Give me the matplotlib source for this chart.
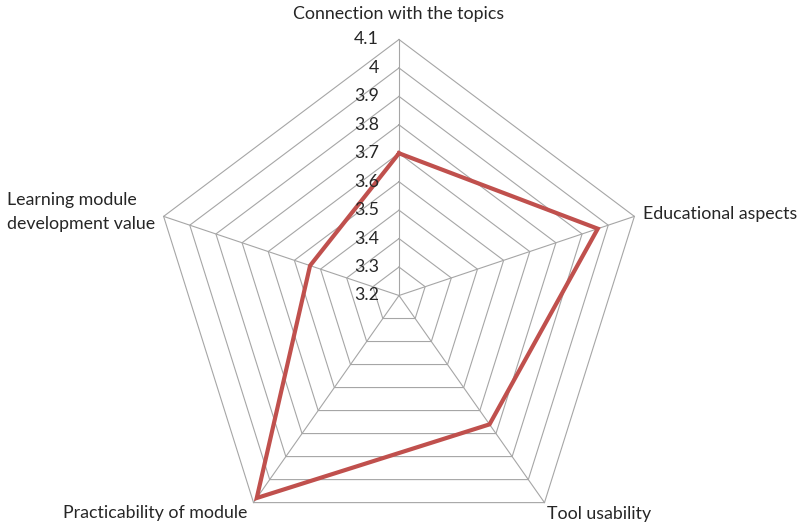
import numpy as np
import matplotlib
matplotlib.use("Agg")
import matplotlib.pyplot as plt

plt.rcParams['font.family'] = ['Lato', 'DejaVu Sans']

# data
categories = ["Connection with the topics", "Educational aspects", "Tool usability",
              "Practicability of module", "Learning module\ndevelopment value"]
scores = [3.70, 3.96, 3.76, 4.08, 3.54]
ring_values = [3.2, 3.3, 3.4, 3.5, 3.6, 3.7, 3.8, 3.9, 4.0, 4.1]
ring_labels = ["3.2", "3.3", "3.4", "3.5", "3.6", "3.7", "3.8", "3.9", "4", "4.1"]

W, H = 798, 523
fig = plt.figure(figsize=(W / 100, H / 100), dpi=100)

# axes box in pixels (centre 399,295; radius 255 vertical, a bit less horizontal)
cx, cy = 399, 295.5
rx, ry = 247.5, 256
ax = fig.add_axes([(cx - rx) / W, (H - cy - ry) / H, 2 * rx / W, 2 * ry / H],
                  projection='polar')
ax.set_aspect('auto')
ax.set_theta_zero_location('N')
ax.set_theta_direction(-1)
ax.set_ylim(ring_values[0], ring_values[-1])
ax.grid(False)
ax.set_xticks([])
ax.set_yticks([])
ax.spines['polar'].set_visible(False)
ax.patch.set_visible(False)

n = len(categories)
angles = np.linspace(0, 2 * np.pi, n, endpoint=False)
closed = np.append(angles, angles[0])

grid_col = '#a6a6a6'
for v in ring_values[1:]:
    ax.plot(closed, [v] * (n + 1), color=grid_col, lw=0.8, clip_on=False, zorder=1)
for a in angles:
    ax.plot([a, a], [ring_values[0], ring_values[-1]], color=grid_col, lw=0.8,
            clip_on=False, zorder=1)

ax.plot(closed, scores + scores[:1], color='#c0504d', lw=3.0, clip_on=False,
        solid_joinstyle='miter', zorder=3)

# radial tick labels, left of the top spoke
for v, lab in zip(ring_values, ring_labels):
    ax.annotate(lab, xy=(0, v), xytext=(-14.5, 0), textcoords='offset points',
                ha='right', va='center', fontsize=12.8, color='#262626',
                annotation_clip=False)

# category labels around the outer ring
offsets = [(0, 18.5, 'center'), (6.5, 2, 'left'), (2, -8, 'left'),
           (-4.5, -7.5, 'right'), (-6, 3, 'right')]
for a, lab, (dx, dy, ha) in zip(angles, categories, offsets):
    ax.annotate(lab, xy=(a, ring_values[-1]), xytext=(dx, dy), textcoords='offset points',
                ha=ha, va='center', multialignment='left', fontsize=12.8,
                color='#262626', annotation_clip=False, linespacing=1.6)

fig.savefig('out.png', dpi=100)
